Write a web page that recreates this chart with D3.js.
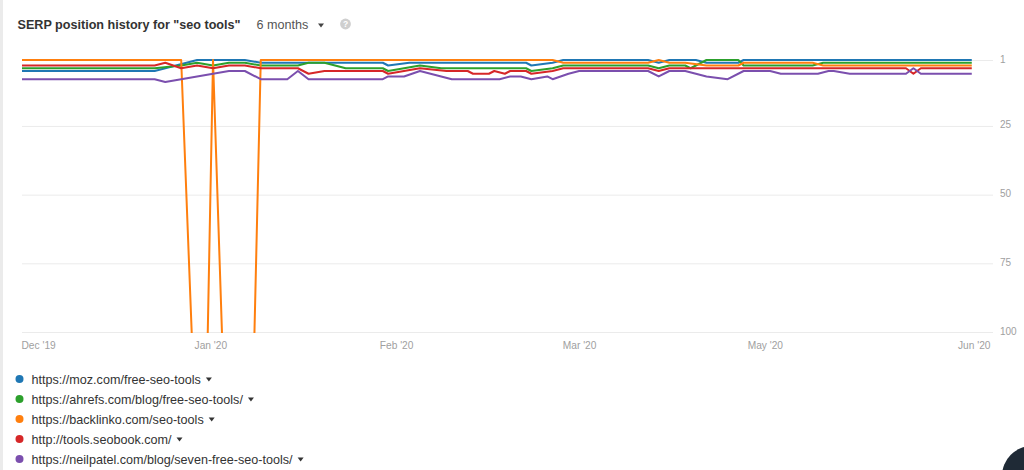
<!DOCTYPE html>
<html>
<head>
<meta charset="utf-8">
<script src="https://cdn.jsdelivr.net/npm/d3@7"></script>
<style>
  html, body { margin: 0; padding: 0; background: #fff; overflow: hidden; }
  svg { display: block; font-family: "Liberation Sans", Arial, sans-serif; }
</style>
</head>
<body>
<svg id="chart" width="1024" height="470"></svg>
<script>
// ---- data -------------------------------------------------------------
// x values are days since the start of the period, y values are SERP positions.
// 101 marks "not in the top 100" (drawn below the plot floor and clipped).
const NOT_RANKED = 101;

const tickDays   = [0, 35.5, 70.5, 105, 140, 183];
const tickLabels = ["Dec '19", "Jan '20", "Feb '20", "Mar '20", "May '20", "Jun '20"];
const rankTicks  = [1, 25, 50, 75, 100];

const urls = [
  "https://moz.com/free-seo-tools",
  "https://ahrefs.com/blog/free-seo-tools/",
  "https://backlinko.com/seo-tools",
  "http://tools.seobook.com/",
  "https://neilpatel.com/blog/seven-free-seo-tools/"
];

const mozRanks = [[0,5],[25,5],[33,1],[42,1],[45,2],[68,2],[69,3],[73,2],[95,2],[96,3],[100,2],[102,1],
  [118,1],[120,2],[122,1],[127,1],[129,2],[135,2],[136,1],[179,1]];

const ahrefsRanks = [[0,4],[25,4],[30,3],[33,2],[36,3],[39,2],[42,2],[45,3],[52,3],[54,2],[57,2],[61,4],
  [68,4],[69,5],[75,3],[79,4],[95,4],[96,5],[100,4],[102,3],[118,3],[120,4],[122,3],[125,3],[126,4],
  [129,1],[135,1],[136,3],[149,3],[151,2],[179,2]];

const backlinkoRanks = [[0,1],[30,1],[32,NOT_RANKED],[35,NOT_RANKED],[36,1],[37.7,NOT_RANKED],
  [43.8,NOT_RANKED],[45,1],[100,1],[102,2],[118,2],[120,1],[122,2],[125,2],[129,3],[135,3],[136,2],
  [149,2],[151,3],[179,3]];

const seobookRanks = [[0,3],[25,3],[27,2],[30,4],[33,3],[36,4],[39,3],[42,3],[45,4],[52,4],[54,6],[57,5],
  [68,5],[69,6],[75,4],[80,5],[84,5],[85,6],[88,6],[89,5],[91,6],[92,5],[95,5],[96,6],[100,5],[102,4],
  [118,4],[120,5],[122,4],[166.6,4],[168,6],[169.4,4],[179,4]];

const neilpatelRanks = [[0,8],[25,8],[27,9],[39,5],[42,5],[45,8],[50,8],[52,5],[54,8],[68,8],[69,7],[72,7],
  [75,5],[79,7],[81,8],[90,8],[92,7],[94,7],[96,8],[99,7],[100,8],[103,6],[105,5],[118,5],[120,7],
  [122,5],[125,5],[129,7],[133,8],[136,5],[141,5],[143,6],[150,6],[152,5],[153,5],[156,6],[166.6,6],
  [168,4],[169.4,6],[179,6]];

const seriesValues = [mozRanks, ahrefsRanks, backlinkoRanks, seobookRanks, neilpatelRanks];
const colors = ["#1f77b4", "#2ca02c", "#ff7f0e", "#d62728", "#7b4fae"];

// ---- layout -------------------------------------------------------------
const svg = d3.select("#chart");
const plot = { left: 22, right: 993, top: 60, bottom: 332 };

svg.append("rect").attr("x", 0).attr("y", 0).attr("width", 3).attr("height", 470).attr("fill", "#ebebeb");

const x = d3.scaleLinear().domain([0, 183]).range([plot.left, plot.right]);
const y = d3.scaleLinear().domain([1, 100]).range([plot.top, plot.bottom]);

// header
const header = svg.append("g");
header.append("text").attr("x", 17.5).attr("y", 28.5)
  .attr("font-size", 12.6).attr("font-weight", "bold").attr("fill", "#333")
  .text('SERP position history for "seo tools"');
header.append("text").attr("x", 256.5).attr("y", 28.5)
  .attr("font-size", 12.6).attr("fill", "#555").text("6 months");
header.append("path").attr("d", "M318,23.5 L324,23.5 L321,27.5 Z").attr("fill", "#444");
header.append("circle").attr("cx", 345.5).attr("cy", 24).attr("r", 5.4).attr("fill", "#cfcfcf");
header.append("text").attr("x", 345.5).attr("y", 27.2).attr("text-anchor", "middle")
  .attr("font-size", 8.5).attr("font-weight", "bold").attr("fill", "#fff").text("?");

// y grid + labels on the right
const yAxis = d3.axisRight(y).tickValues(rankTicks).tickSize(-(plot.right - plot.left)).tickPadding(7);
const gy = svg.append("g").attr("transform", `translate(${plot.right},0)`).call(yAxis);
gy.select(".domain").remove();
gy.selectAll(".tick line").attr("stroke", "#ebebeb").attr("stroke-width", 1);
gy.selectAll(".tick text").attr("fill", "#a0a0a0").attr("font-size", 10)
  .attr("font-family", '"Liberation Sans", Arial, sans-serif').attr("dy", "0.2em");

// x labels
const xAxis = d3.axisBottom(x).tickValues(tickDays).tickFormat((d, i) => tickLabels[i]).tickSize(0).tickPadding(0);
const gx = svg.append("g").attr("transform", `translate(0,${plot.bottom})`).call(xAxis);
gx.select(".domain").remove();
gx.selectAll(".tick text")
  .attr("fill", "#a0a0a0").attr("font-size", 10.2)
  .attr("font-family", '"Liberation Sans", Arial, sans-serif')
  .attr("y", 17).attr("dy", 0)
  .attr("text-anchor", (d, i) => i === 0 ? "start" : (i === tickDays.length - 1 ? "end" : "middle"))
  .attr("dx", (d, i) => i === 0 ? -1 : (i === tickDays.length - 1 ? -3 : 0));

// lines
svg.append("clipPath").attr("id", "plot-clip")
  .append("rect").attr("x", plot.left - 2).attr("y", 0)
  .attr("width", plot.right - plot.left + 4).attr("height", plot.bottom + 1);

const line = d3.line().x(d => x(d[0])).y(d => y(d[1]));
svg.append("g").attr("clip-path", "url(#plot-clip)")
  .selectAll("path").data(seriesValues).join("path")
  .attr("d", line)
  .attr("fill", "none")
  .attr("stroke", (d, i) => colors[i])
  .attr("stroke-width", 2)
  .attr("stroke-linejoin", "round");

// legend
const legend = svg.append("g");
urls.forEach((u, i) => {
  const cy = 379 + i * 20;
  legend.append("circle").attr("cx", 19.5).attr("cy", cy).attr("r", 4).attr("fill", colors[i]);
  const t = legend.append("text").attr("x", 31.5).attr("y", cy + 4.5)
    .attr("font-size", 12.6).attr("fill", "#333").text(u);
  const end = 31.5 + t.node().getComputedTextLength();
  legend.append("path")
    .attr("d", `M${end + 5},${cy - 1.5} L${end + 11},${cy - 1.5} L${end + 8},${cy + 2.5} Z`)
    .attr("fill", "#333");
});

// chat bubble in the corner
svg.append("circle").attr("cx", 1032).attr("cy", 476).attr("r", 30).attr("fill", "#1f2a36");
</script>
</body>
</html>
